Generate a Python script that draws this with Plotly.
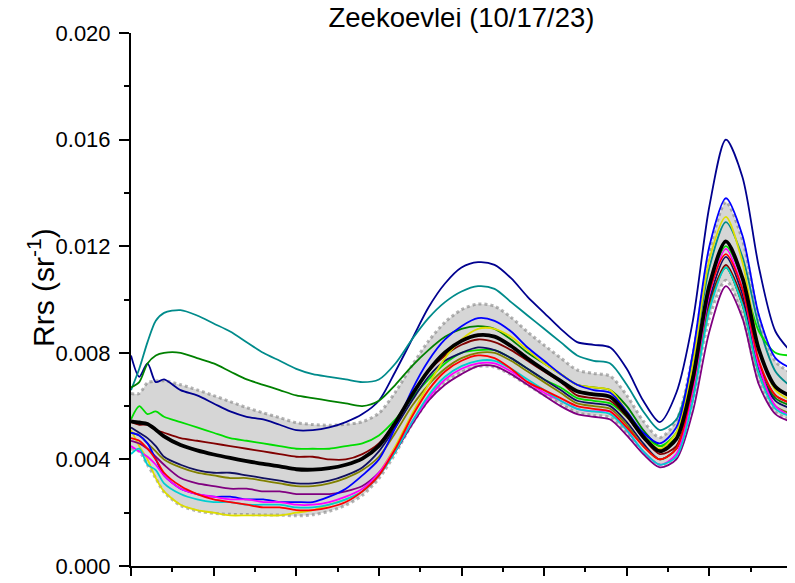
import numpy as np
import plotly.graph_objects as go

# Wavelength grid (nm)
wavelength = [350, 355, 360, 365, 370, 380, 390, 400, 410, 420, 430, 440, 450, 460, 470,
              480, 490, 500, 510, 520, 530, 540, 550, 560, 570, 580, 590, 600, 610, 620,
              630, 640, 650, 660, 670, 680, 690, 700, 710, 720, 730, 740, 750]

# Individual Rrs spectra (sr^-1)
navy = [.0079, .0071, .0076, .0069, .0070, .0066, .0064, .0061, .0058, .0056, .0055, .0053, .0051, .0051, .0052,
        .0054, .0057, .0062, .0073, .0085, .0097, .0106, .0112, .0114, .0113, .0108, .0101, .0095, .0089, .0084,
        .0083, .0082, .0074, .0062, .0054, .0065, .0092, .0135, .0160, .0146, .0112, .0088, .0080]
teal = [.0066, .0074, .0084, .0092, .0095, .0096, .0094, .0091, .0088, .0084, .0080, .0077, .0074, .0072, .0071,
        .0070, .0069, .0070, .0076, .0085, .0093, .0099, .0103, .0105, .0104, .0099, .0094, .0089, .0084, .0079,
        .0077, .0076, .0068, .0058, .0051, .0055, .0077, .0112, .0129, .0116, .0090, .0073, .0067]
green = [.0067, .0069, .0076, .0079, .0080, .0080, .0078, .0076, .0073, .0070, .0068, .0066, .0064, .0063, .0062,
         .0061, .0060, .0062, .0068, .0075, .0081, .0086, .0089, .0090, .0089, .0085, .0080, .0076, .0072, .0068,
         .0067, .0066, .0060, .0051, .0045, .0048, .0068, .0099, .0112, .0098, .0074, .0063, .0060]
lime = [.0055, .0060, .0057, .0058, .0056, .0054, .0052, .0050, .0048, .0047, .0046, .0045, .0044, .0044, .0044,
        .0045, .0046, .0049, .0055, .0063, .0070, .0076, .0080, .0081, .0081, .0078, .0074, .0070, .0067, .0063,
        .0062, .0061, .0056, .0049, .0045, .0050, .0072, .0105, .0120, .0108, .0088, .0080, .0079]
maroon = [.0054, .0053, .0053, .0051, .0050, .0048, .0047, .0046, .0045, .0044, .0043, .0042, .0041, .0041, .0040,
          .0040, .0042, .0046, .0054, .0064, .0073, .0079, .0083, .0085, .0084, .0081, .0077, .0073, .0069, .0064,
          .0063, .0062, .0056, .0048, .0042, .0045, .0066, .0098, .0113, .0100, .0076, .0064, .0061]
navy2 = [.0052, .0050, .0048, .0045, .0041, .0038, .0036, .0035, .0035, .0034, .0033, .0032, .0031, .0031, .0032,
         .0034, .0037, .0043, .0052, .0062, .0071, .0077, .0080, .0082, .0081, .0078, .0074, .0070, .0066, .0062,
         .0061, .0060, .0054, .0046, .0040, .0044, .0066, .0100, .0116, .0102, .0074, .0062, .0059]
olive = [.0050, .0049, .0046, .0043, .0040, .0037, .0035, .0034, .0033, .0033, .0032, .0031, .0030, .0030, .0031,
         .0033, .0036, .0041, .0050, .0060, .0068, .0074, .0078, .0080, .0080, .0077, .0073, .0069, .0065, .0061,
         .0060, .0059, .0053, .0045, .0040, .0044, .0065, .0097, .0112, .0098, .0072, .0060, .0057]
yellow = [.0051, .0045, .0040, .0033, .0028, .0023, .0021, .0020, .0019, .0019, .0019, .0019, .0020, .0021, .0023,
          .0025, .0028, .0035, .0045, .0057, .0068, .0078, .0085, .0089, .0089, .0086, .0081, .0076, .0072, .0068,
          .0067, .0066, .0058, .0049, .0044, .0050, .0076, .0115, .0131, .0114, .0082, .0066, .0062]
purple = [.0047, .0046, .0044, .0041, .0038, .0033, .0031, .0030, .0029, .0029, .0028, .0028, .0027, .0027, .0027,
          .0028, .0030, .0035, .0043, .0053, .0062, .0068, .0072, .0075, .0075, .0072, .0068, .0064, .0060, .0057,
          .0056, .0055, .0049, .0042, .0037, .0040, .0058, .0088, .0105, .0093, .0068, .0057, .0054]
blue = [.0050, .0049, .0046, .0040, .0034, .0029, .0027, .0026, .0026, .0025, .0025, .0024, .0024, .0024, .0026,
        .0029, .0034, .0040, .0052, .0066, .0077, .0085, .0090, .0093, .0092, .0088, .0082, .0077, .0072, .0068,
        .0066, .0065, .0058, .0050, .0046, .0052, .0080, .0120, .0138, .0124, .0094, .0078, .0074]
magenta = [.0045, .0043, .0041, .0038, .0034, .0029, .0027, .0026, .0025, .0025, .0024, .0024, .0023, .0023, .0024,
           .0026, .0029, .0035, .0044, .0054, .0063, .0070, .0074, .0076, .0076, .0073, .0069, .0065, .0062, .0059,
           .0058, .0058, .0051, .0043, .0038, .0042, .0066, .0102, .0119, .0104, .0075, .0060, .0056]
cyan = [.0042, .0044, .0038, .0036, .0031, .0027, .0025, .0024, .0024, .0023, .0023, .0023, .0022, .0022, .0023,
        .0025, .0028, .0034, .0043, .0054, .0064, .0071, .0075, .0077, .0077, .0074, .0070, .0066, .0062, .0059,
        .0058, .0057, .0051, .0043, .0038, .0041, .0062, .0096, .0112, .0098, .0072, .0059, .0056]
red = [.0048, .0047, .0044, .0040, .0035, .0030, .0027, .0025, .0024, .0023, .0022, .0022, .0021, .0021, .0022,
       .0024, .0028, .0034, .0044, .0056, .0066, .0073, .0077, .0079, .0078, .0074, .0069, .0066, .0063, .0060,
       .0059, .0058, .0052, .0045, .0040, .0044, .0068, .0103, .0117, .0104, .0077, .0064, .0061]

series = [
    ("navy", navy, "#00008F"),
    ("teal", teal, "#008B8B"),
    ("green", green, "#008000"),
    ("lime", lime, "#00DD00"),
    ("maroon", maroon, "#800000"),
    ("navy2", navy2, "#101060"),
    ("olive", olive, "#808000"),
    ("yellow", yellow, "#DDDD00"),
    ("purple", purple, "#800080"),
    ("blue", blue, "#0000FF"),
    ("magenta", magenta, "#FF00FF"),
    ("cyan", cyan, "#00CED1"),
    ("red", red, "#FF0000"),
]

arr = np.array([s[1] for s in series])
mean = arr.mean(axis=0)
sd = arr.std(axis=0, ddof=1)
upper = mean + sd
lower = mean - sd

fig = go.Figure()
LS = dict(shape="spline", smoothing=0.8)

# SD band
fig.add_trace(go.Scatter(x=wavelength, y=lower, mode="lines",
                         line=dict(color="rgba(120,120,120,0.55)", width=3, dash="dot", **LS),
                         hoverinfo="skip"))
fig.add_trace(go.Scatter(x=wavelength, y=upper, mode="lines", fill="tonexty",
                         fillcolor="rgba(210,210,210,0.9)",
                         line=dict(color="rgba(120,120,120,0.55)", width=3, dash="dot", **LS),
                         hoverinfo="skip"))

for name, vals, col in series:
    fig.add_trace(go.Scatter(x=wavelength, y=vals, mode="lines", name=name,
                             line=dict(color=col, width=1.8, **LS)))

fig.add_trace(go.Scatter(x=wavelength, y=mean, mode="lines", name="mean",
                         line=dict(color="black", width=3.8, **LS)))

FONT = "Liberation Sans, Arial, sans-serif"
W, H = 787, 575   # page adds an 8 px body margin
fig.update_layout(
    width=W, height=H,
    margin=dict(l=123, r=3, t=25, b=17),
    paper_bgcolor="white", plot_bgcolor="white",
    showlegend=False,
    font=dict(family=FONT, color="black"),
    title=dict(text="Zeekoevlei (10/17/23)", x=0.5, xref="paper", xanchor="center",
               y=1, yref="container", yanchor="top", pad=dict(t=0, b=0),
               font=dict(size=27.5, family=FONT, color="black")),
    xaxis=dict(range=[350, 750], showline=True, linecolor="black", linewidth=2,
               ticks="outside", ticklen=8, tickwidth=2, tickcolor="black",
               tick0=350, dtick=50, showticklabels=False, showgrid=False, zeroline=False,
               minor=dict(ticks="outside", ticklen=4, tickwidth=2, tickcolor="black",
                          tick0=350, dtick=25, showgrid=False)),
    yaxis=dict(range=[0, 0.020], showline=True, linecolor="black", linewidth=2,
               ticks="outside", ticklen=10, tickwidth=2, tickcolor="black",
               tick0=0, dtick=0.004, tickformat=".3f", showgrid=False, zeroline=False,
               ticklabelstandoff=4,
               tickfont=dict(size=22, family=FONT, color="black"),
               minor=dict(ticks="outside", ticklen=5, tickwidth=2, tickcolor="black",
                          tick0=0, dtick=0.002, showgrid=False)),
    annotations=[dict(text="Rrs (sr<sup>-1</sup>)", xref="paper", yref="paper",
                      x=(41 - 131) / 661, y=(566 - 288) / 533, xanchor="center", yanchor="middle",
                      textangle=-90, showarrow=False,
                      font=dict(size=30, family=FONT, color="black"))],
)

fig.write_html("out.html")
